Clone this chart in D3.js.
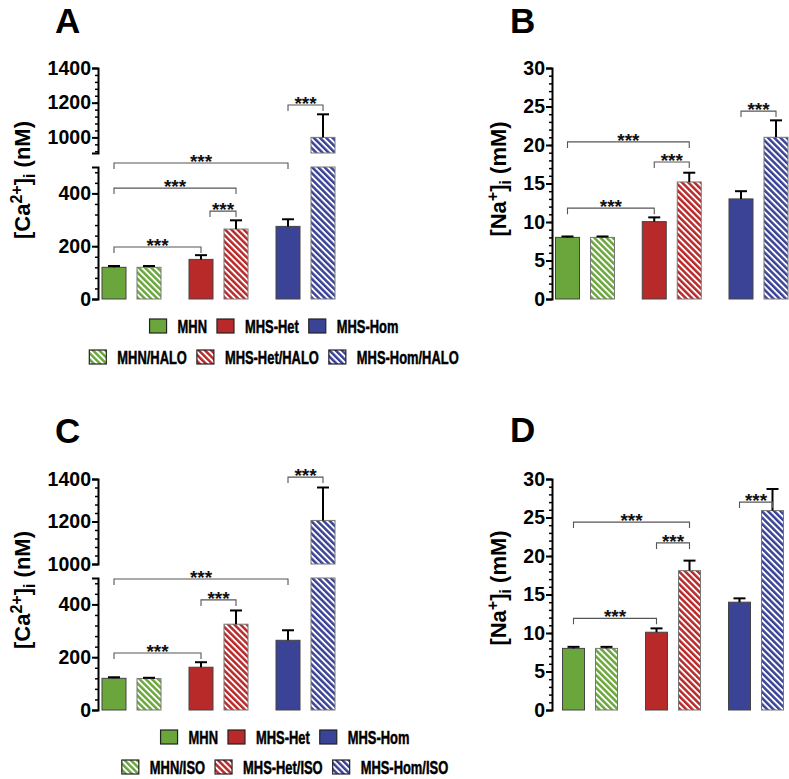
<!DOCTYPE html>
<html><head><meta charset="utf-8">
<script src="https://cdn.jsdelivr.net/npm/d3@7"></script>
<style>body{margin:0;background:#fff} svg{display:block}</style>
</head><body>
<svg id="chart" width="789" height="779"></svg>
<script>
// ---------- DATA ----------
const groups = ["MHN", "MHS-Het", "MHS-Hom"];
const conds = ["base", "drug"];
const colors = ["#6aa63b", "#b8292a", "#3b4396"];

// Panel A: [Ca2+]i with halothane (nM)  order: MHN, MHN/HALO, Het, Het/HALO, Hom, Hom/HALO
const caHaloMean = [120, 120, 150, 265, 275, 1000];
const caHaloTop  = [125, 125, 166, 298, 302, 1133];
// Panel B: [Na+]i with halothane (mM)
const naHaloMean = [8.0, 8.0, 10.05, 15.2, 13.0, 21.0];
const naHaloTop  = [8.12, 8.12, 10.6, 16.4, 14.0, 23.2];
// Panel C: [Ca2+]i with isoflurane (nM)
const caIsoMean = [120, 119, 162, 325, 264, 1205];
const caIsoTop  = [124, 122, 181, 377, 302, 1360];
// Panel D: [Na+]i with isoflurane (mM)
const naIsoMean = [8.0, 8.0, 10.1, 18.1, 14.0, 25.9];
const naIsoTop  = [8.2, 8.2, 10.6, 19.4, 14.5, 28.7];

// significance brackets: bar a -> bar b at value v
const bracketsA = [{a:0,b:4,v:515},{a:0,b:3,v:420},{a:2,b:3,v:333,shiftA:0.375},{a:0,b:2,v:197},{a:4,b:5,v:1187}];
const bracketsB = [{a:0,b:3,v:20.4},{a:2,b:3,v:17.8},{a:0,b:2,v:11.8},{a:4,b:5,v:24.4}];
const bracketsC = [{a:4,b:5,v:1409},{a:0,b:4,v:496},{a:2,b:3,v:417},{a:0,b:2,v:216}];
const bracketsD = [{a:0,b:3,v:24.4},{a:2,b:3,v:21.7},{a:0,b:2,v:11.9},{a:4,b:5,v:27.0}];

const caLowerMajor = [0, 200, 400];
const caLowerMinor = d3.range(40, 500, 40);
const caUpperMajor = [1000, 1200, 1400];
const caUpperMinor = d3.range(920, 1400, 40);
const naMajor = [0, 5, 10, 15, 20, 25, 30];
const naMinor = d3.range(1, 30, 1);

const legendHalo = [["MHN","MHS-Het","MHS-Hom"],["MHN/HALO","MHS-Het/HALO","MHS-Hom/HALO"]];
const legendIso  = [["MHN","MHS-Het","MHS-Hom"],["MHN/ISO","MHS-Het/ISO","MHS-Hom/ISO"]];

// ---------- DRAW ----------
const svg = d3.select("#chart");
const defs = svg.append("defs");
colors.forEach((c, i) => {
  const p = defs.append("pattern").attr("id", "hatch" + i)
    .attr("patternUnits", "userSpaceOnUse").attr("width", 4.4).attr("height", 4.4)
    .attr("patternTransform", "rotate(-45)");
  p.append("rect").attr("width", 4.4).attr("height", 4.4).attr("fill", "#fff");
  p.append("rect").attr("width", 2.5).attr("height", 4.4).attr("fill", c);
});

const FONT = "'Liberation Sans', Arial, Helvetica, sans-serif";

function styleAxis(ax, major) {
  ax.select(".domain").attr("stroke", "#000").attr("stroke-width", 2);
  ax.selectAll(".tick line").attr("stroke", "#000").attr("stroke-width", major ? 2 : 1.5);
  ax.selectAll("text").attr("font-family", FONT).attr("font-weight", "bold")
    .attr("font-size", 19.5).attr("fill", "#000");
}

function drawPanel(p) {
  const g = svg.append("g");
  const xg = d3.scalePoint().domain(groups).range(p.groupRange);
  const xi = d3.scalePoint().domain(conds).range([-p.inner, p.inner]);
  const cx = i => xg(groups[Math.floor(i / 2)]) + xi(conds[i % 2]);
  const yl = d3.scaleLinear().domain(p.lowerDomain).range(p.lowerRange);
  const yu = p.upperDomain ? d3.scaleLinear().domain(p.upperDomain).range(p.upperRange) : null;
  const lowMax = p.lowerDomain[1];
  const yv = v => (yu && v > lowMax + 100) ? yu(v) : yl(v);

  // bars
  p.mean.forEach((m, i) => {
    const gi = Math.floor(i / 2);
    const fill = i % 2 ? `url(#hatch${gi})` : colors[gi];
    const x0 = cx(i) - p.bw / 2;
    const segs = [];
    if (yu && m > lowMax) {
      segs.push([yl(lowMax), yl(0)]);
      segs.push([yu(m), yu(p.upperDomain[0])]);
    } else {
      segs.push([yl(m), yl(0)]);
    }
    segs.forEach(([y0, y1]) => {
      g.append("rect").attr("x", x0).attr("y", y0).attr("width", p.bw).attr("height", y1 - y0)
        .attr("fill", fill).attr("stroke", i % 2 ? "#777" : "#444").attr("stroke-width", 1);
    });
    // error bar
    const yt = yv(p.top[i]), ym = yv(m);
    g.append("line").attr("x1", cx(i)).attr("x2", cx(i)).attr("y1", ym).attr("y2", yt)
      .attr("stroke", "#000").attr("stroke-width", 2);
    g.append("line").attr("x1", cx(i) - 6).attr("x2", cx(i) + 6).attr("y1", yt).attr("y2", yt)
      .attr("stroke", "#000").attr("stroke-width", 2);
  });

  // brackets
  p.brackets.forEach(b => {
    const xa = cx(b.a) + (b.shiftA || 0) * p.bw, xb = cx(b.b);
    const y = yv(b.v);
    g.append("path").attr("d", `M${xa},${y + 6}V${y}H${xb}V${y + 6}`)
      .attr("fill", "none").attr("stroke", "#555").attr("stroke-width", 1.1);
    g.append("text").attr("x", (xa + xb) / 2).attr("y", y + 5).attr("text-anchor", "middle")
      .attr("font-family", FONT).attr("font-weight", "bold").attr("font-size", 19)
      .attr("fill", "#111").text("***");
  });

  // axes
  const axL = g.append("g").attr("transform", `translate(${p.axisX},0)`)
    .call(d3.axisLeft(yl).tickValues(p.lowerMajor).tickSize(6).tickSizeOuter(6).tickPadding(1).tickFormat(d3.format("d")));
  styleAxis(axL, true);
  const axLm = g.append("g").attr("transform", `translate(${p.axisX},0)`)
    .call(d3.axisLeft(yl).tickValues(p.lowerMinor).tickSize(3).tickFormat(""));
  axLm.select(".domain").remove(); styleAxis(axLm, false);
  if (yu) {
    const axU = g.append("g").attr("transform", `translate(${p.axisX},0)`)
      .call(d3.axisLeft(yu).tickValues(p.upperMajor).tickSize(6).tickSizeOuter(6).tickPadding(1).tickFormat(d3.format("d")));
    styleAxis(axU, true);
    const axUm = g.append("g").attr("transform", `translate(${p.axisX},0)`)
      .call(d3.axisLeft(yu).tickValues(p.upperMinor).tickSize(3).tickFormat(""));
    axUm.select(".domain").remove(); styleAxis(axUm, false);
  }

  // panel letter
  g.append("text").attr("x", p.letterPos[0]).attr("y", p.letterPos[1])
    .attr("font-family", FONT).attr("font-weight", "bold").attr("font-size", 35).text(p.letter);

  // y label
  const yt = g.append("text").attr("transform", `translate(${p.yLabelPos[0]},${p.yLabelPos[1]}) rotate(-90)`)
    .attr("text-anchor", "middle").attr("font-family", FONT).attr("font-weight", "bold").attr("font-size", 22);
  yt.append("tspan").text("[" + p.ion);
  yt.append("tspan").attr("dy", -8).attr("font-size", 16).text(p.charge);
  yt.append("tspan").attr("dy", 8).text("]");
  yt.append("tspan").attr("dy", 5).attr("font-size", 16).text("i");
  yt.append("tspan").attr("dy", -5).text(" (" + p.unit + ")");
}

const SQUEEZE = 0.68; // condensed legend type
function drawLegend(rows, centerX, rowYs) {
  const g = svg.append("g");
  rows.forEach((row, r) => {
    const rg = g.append("g");
    let x = 0;
    row.forEach((name, i) => {
      rg.append("rect").attr("x", x).attr("y", rowYs[r] - 7).attr("width", 17).attr("height", 14)
        .attr("fill", r ? `url(#hatch${i})` : colors[i])
        .attr("stroke", "#222").attr("stroke-width", 1.2);
      const t = rg.append("text")
        .attr("transform", `translate(${x + 28},${rowYs[r] + 7}) scale(${SQUEEZE},1)`)
        .attr("font-family", FONT).attr("font-weight", "bold").attr("font-size", 19)
        .attr("fill", "#000").attr("stroke", "#000").attr("stroke-width", 0.5).text(name);
      x += 28 + t.node().getComputedTextLength() * SQUEEZE + 10;
    });
    const total = x - 10;
    rg.attr("transform", `translate(${centerX - total / 2},0)`);
  });
}

drawPanel({letter:"A", letterPos:[55,33], ion:"Ca", charge:"2+", unit:"nM", yLabelPos:[30,180],
  mean:caHaloMean, top:caHaloTop, brackets:bracketsA,
  groupRange:[131.5,305.5], inner:17.5, bw:24, axisX:98,
  lowerDomain:[0,500], lowerRange:[299,167], upperDomain:[910,1400], upperRange:[153,68],
  lowerMajor:caLowerMajor, lowerMinor:caLowerMinor, upperMajor:caUpperMajor, upperMinor:caUpperMinor});

drawPanel({letter:"B", letterPos:[510,33], ion:"Na", charge:"+", unit:"mM", yLabelPos:[506,179],
  mean:naHaloMean, top:naHaloTop, brackets:bracketsB,
  groupRange:[585,758.5], inner:17.5, bw:24, axisX:552,
  lowerDomain:[0,30], lowerRange:[299,68],
  lowerMajor:naMajor, lowerMinor:naMinor});

drawPanel({letter:"C", letterPos:[55,443], ion:"Ca", charge:"2+", unit:"nM", yLabelPos:[30,590],
  mean:caIsoMean, top:caIsoTop, brackets:bracketsC,
  groupRange:[131.5,305.5], inner:17.5, bw:24, axisX:98,
  lowerDomain:[0,500], lowerRange:[710,578], upperDomain:[1000,1400], upperRange:[564,479],
  lowerMajor:caLowerMajor, lowerMinor:caLowerMinor, upperMajor:caUpperMajor, upperMinor:d3.range(1040,1400,40)});

drawPanel({letter:"D", letterPos:[510,442], ion:"Na", charge:"+", unit:"mM", yLabelPos:[506,588],
  mean:naIsoMean, top:naIsoTop, brackets:bracketsD,
  groupRange:[590,756], inner:16.5, bw:22, axisX:552,
  lowerDomain:[0,30], lowerRange:[710,479],
  lowerMajor:naMajor, lowerMinor:naMinor});

drawLegend(legendHalo, 274, [326, 357]);
drawLegend(legendIso, 285, [737, 767]);
</script>
</body></html>
